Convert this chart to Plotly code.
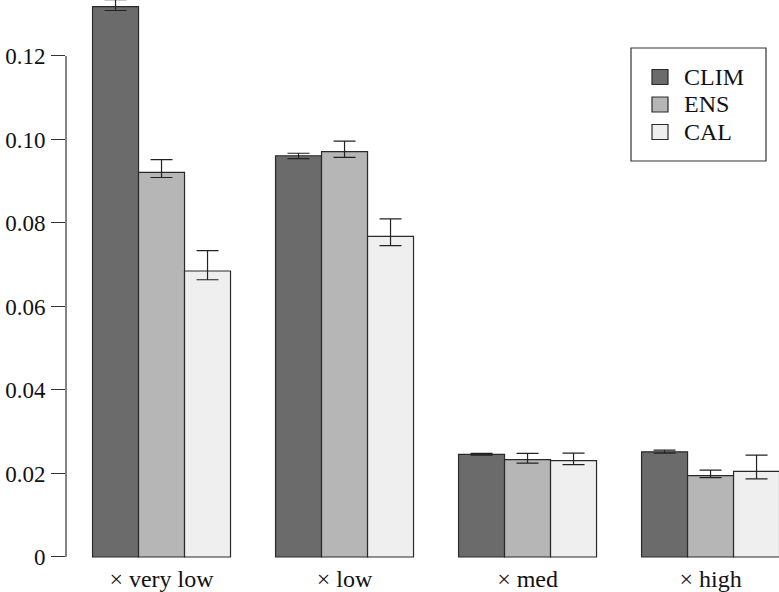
import plotly.graph_objects as go

categories = ["× very low", "× low", "× med", "× high"]
series_names = ["CLIM", "ENS", "CAL"]

clim_values = [0.1318, 0.0961, 0.0246, 0.0252]
ens_values = [0.0921, 0.0971, 0.0233, 0.0195]
cal_values = [0.0685, 0.0768, 0.0231, 0.0205]

clim_upper = [0.1335, 0.0967, 0.0248, 0.0256]
clim_lower = [0.1309, 0.0954, 0.0244, 0.0249]
ens_upper = [0.0952, 0.0996, 0.0248, 0.0208]
ens_lower = [0.0909, 0.0957, 0.0225, 0.0190]
cal_upper = [0.0734, 0.0810, 0.0249, 0.0244]
cal_lower = [0.0664, 0.0746, 0.0221, 0.0187]

y_tick_vals = [0, 0.02, 0.04, 0.06, 0.08, 0.10, 0.12]
y_tick_text = ["0", "0.02", "0.04", "0.06", "0.08", "0.10", "0.12"]

colors = ["#6b6b6b", "#b6b6b6", "#efefef"]
values = [clim_values, ens_values, cal_values]
uppers = [clim_upper, ens_upper, cal_upper]
lowers = [clim_lower, ens_lower, cal_lower]

FONT = "Liberation Serif, Times New Roman, serif"
W, H = 779, 592
ML, MR, MT, MB = 66, 0, 0, 30
PW, PH = W - ML - MR, H - MT - MB


def px(x):
    return (x - ML) / PW


def py(y):
    return (PH - (y - MT)) / PH


fig = go.Figure()
for name, vals, up, lo, col in zip(series_names, values, uppers, lowers, colors):
    fig.add_trace(go.Bar(
        name=name,
        x=categories,
        y=vals,
        marker=dict(color=col, line=dict(color="#2a2a2a", width=1.2)),
        error_y=dict(
            type="data",
            symmetric=False,
            array=[u - v for u, v in zip(up, vals)],
            arrayminus=[v - l for v, l in zip(vals, lo)],
            color="#222222",
            thickness=1.2,
            width=11,
        ),
        showlegend=False,
    ))

# legend drawn by hand (box, keys, labels)
shapes = [
    dict(type="line", xref="paper", yref="y", x0=0, x1=0, y0=0, y1=0.12,
         line=dict(color="#333333", width=1.2)),
    dict(type="rect", xref="paper", yref="paper",
         x0=px(631), x1=px(766), y0=py(161), y1=py(48),
         line=dict(color="#333333", width=1.2), layer="above"),
]
annotations = []
row_centers = [77, 104.5, 132]
for name, col, rc in zip(series_names, colors, row_centers):
    shapes.append(dict(type="rect", xref="paper", yref="paper",
                       x0=px(652), x1=px(668), y0=py(rc + 7.5), y1=py(rc - 7.5),
                       fillcolor=col, line=dict(color="#2a2a2a", width=1.2),
                       layer="above"))
    annotations.append(dict(xref="paper", yref="paper", x=px(682), y=py(rc),
                            xanchor="left", yanchor="middle", text=name,
                            showarrow=False,
                            font=dict(family=FONT, size=24, color="#111111")))

fig.update_layout(
    width=W,
    height=H,
    margin=dict(l=ML, r=MR, t=MT, b=MB),
    paper_bgcolor="white",
    plot_bgcolor="white",
    barmode="group",
    bargap=0.246,
    bargroupgap=0,
    font=dict(family=FONT, size=24, color="#111111"),
    showlegend=False,
    xaxis=dict(
        type="category",
        range=[-0.522, 3.374],
        showline=False, showgrid=False, zeroline=False,
        ticks="", automargin=False,
        tickfont=dict(family=FONT, size=24, color="#111111"),
    ),
    yaxis=dict(
        range=[-0.0012, 0.13341],
        showline=False, showgrid=False, zeroline=False,
        tickvals=y_tick_vals, ticktext=y_tick_text,
        ticks="outside", ticklen=14, tickwidth=1.2, tickcolor="#333333",
        ticklabelstandoff=1, automargin=False,
        tickfont=dict(family=FONT, size=23, color="#111111"),
    ),
    shapes=shapes,
    annotations=annotations,
)

fig.write_html(
    "out.html",
    config={"displayModeBar": False},
    post_script="document.body.style.margin='0';document.body.style.overflow='hidden';",
)
